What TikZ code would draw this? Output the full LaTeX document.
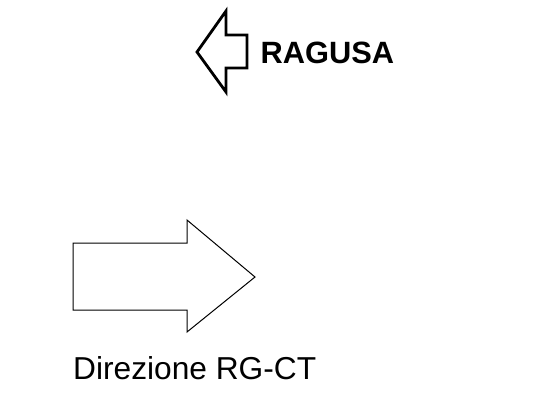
\documentclass[tikz,border=0pt]{standalone}
\usepackage{fontspec}
\setmainfont{Liberation Sans}
\usepackage{tikz}
\usetikzlibrary{positioning}
\tikzset{
  bigarrow/.style={draw=black, line width=1pt, fill=white, line join=miter},
  signarrow/.style={bigarrow, line width=2.8pt},
  signlabel/.style={font=\fontsize{30.8}{36}\selectfont\bfseries, inner sep=0pt, anchor=base west},
  caption/.style={font=\fontsize{31.7}{36}\selectfont, inner sep=0pt, anchor=base west},
}
\begin{document}
\begin{tikzpicture}[x=1pt, y=-1pt]
\useasboundingbox (0,0) rectangle (540,413);
% arrow towards Ragusa
\draw[signarrow] (197,52) -- (226,11) -- (226,35) -- (247,35) -- (247,68)
  -- (226,68) -- (226,92) -- cycle;
\node[signlabel] (ragusa) at (260.5,63) {RAGUSA};

% direction of travel
\draw[bigarrow] (73,243) -- (187,243) -- (187,220) -- (255,277) -- (187,332)
  -- (187,310) -- (73,310) -- cycle;
\node[caption] (direzione) at (73,379) {Direzione RG-CT};
\end{tikzpicture}
\end{document}
